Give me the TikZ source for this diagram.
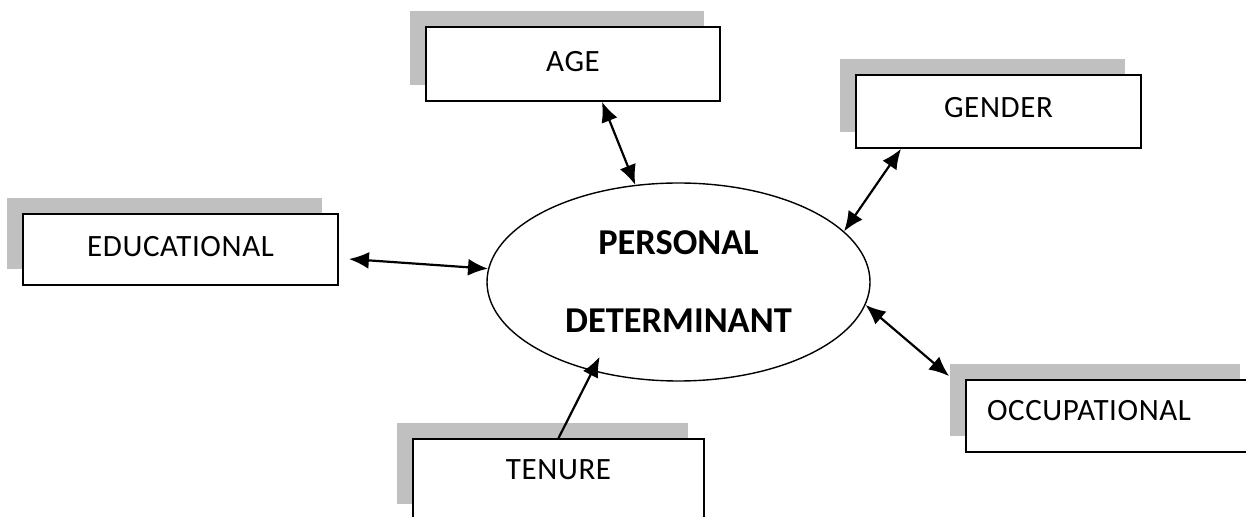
\documentclass[tikz,border=0pt]{standalone}
\usepackage{fontspec}
\setmainfont{Carlito}
\newfontfamily\boxfont[LetterSpace=2]{Carlito}
\usepackage{tikz}
\usetikzlibrary{arrows.meta,shadows,shapes.geometric}
\definecolor{shadowgray}{RGB}{192,192,192}

\begin{document}
\begin{tikzpicture}
 [x=0.5pt, y=-0.5pt,
  factor node/.style={rectangle, draw, line width=0.9pt, fill=white, inner sep=0pt, text depth=3.5pt,
    font=\boxfont\fontsize{15.5}{17}\selectfont,
    general shadow={fill=shadowgray, shadow xshift=-8pt, shadow yshift=8pt}},
  main node/.style={ellipse, draw, line width=0.7pt, fill=white, minimum width=191.5pt, minimum height=99pt,
    inner sep=0pt, align=center, font=\fontsize{18.2}{39}\selectfont\bfseries},
  link/.style={{Latex[length=10pt,width=8.5pt]}-{Latex[length=10pt,width=8.5pt]}, line width=1.1pt},
  half link/.style={-{Latex[length=10pt,width=8.5pt]}, line width=1.1pt}]

\useasboundingbox (0,0) rectangle (1246,517);

\node[main node] (ell) at (678.5,282) {PERSONAL\\DETERMINANT};
\node[factor node, minimum width=147pt, minimum height=37pt, text depth=3pt] (age) at (573,64) {AGE};
\node[factor node, minimum width=142.5pt, minimum height=36.5pt, text depth=4.5pt] (gender) at (998.5,111.5) {GENDER};
\node[factor node, minimum width=157.5pt, minimum height=35.5pt] (educ) at (180.5,249.5) {EDUCATIONAL};
\node[factor node, minimum width=145.5pt, minimum height=40.5pt, text depth=9.5pt] (tenure) at (558.5,479.5) {TENURE};
\node[factor node, minimum width=145pt, minimum height=36pt, text depth=6pt, text width=124pt, align=left] (occ) at (1111,416) {OCCUPATIONAL};

\path
  ([xshift=14.5pt]age.south) edge [link] (ell.114)
  ([xshift=-48.75pt]gender.south) edge [link] (ell.17)
  ([xshift=5pt,yshift=-4.75pt]educ.east) edge [link] (ell.176)
  (tenure.north) edge [half link, shorten >=-8pt] (ell.226)
  ([xshift=-8pt,yshift=1.5pt]occ.north west) edge [link] (ell.353);

\end{tikzpicture}
\end{document}
